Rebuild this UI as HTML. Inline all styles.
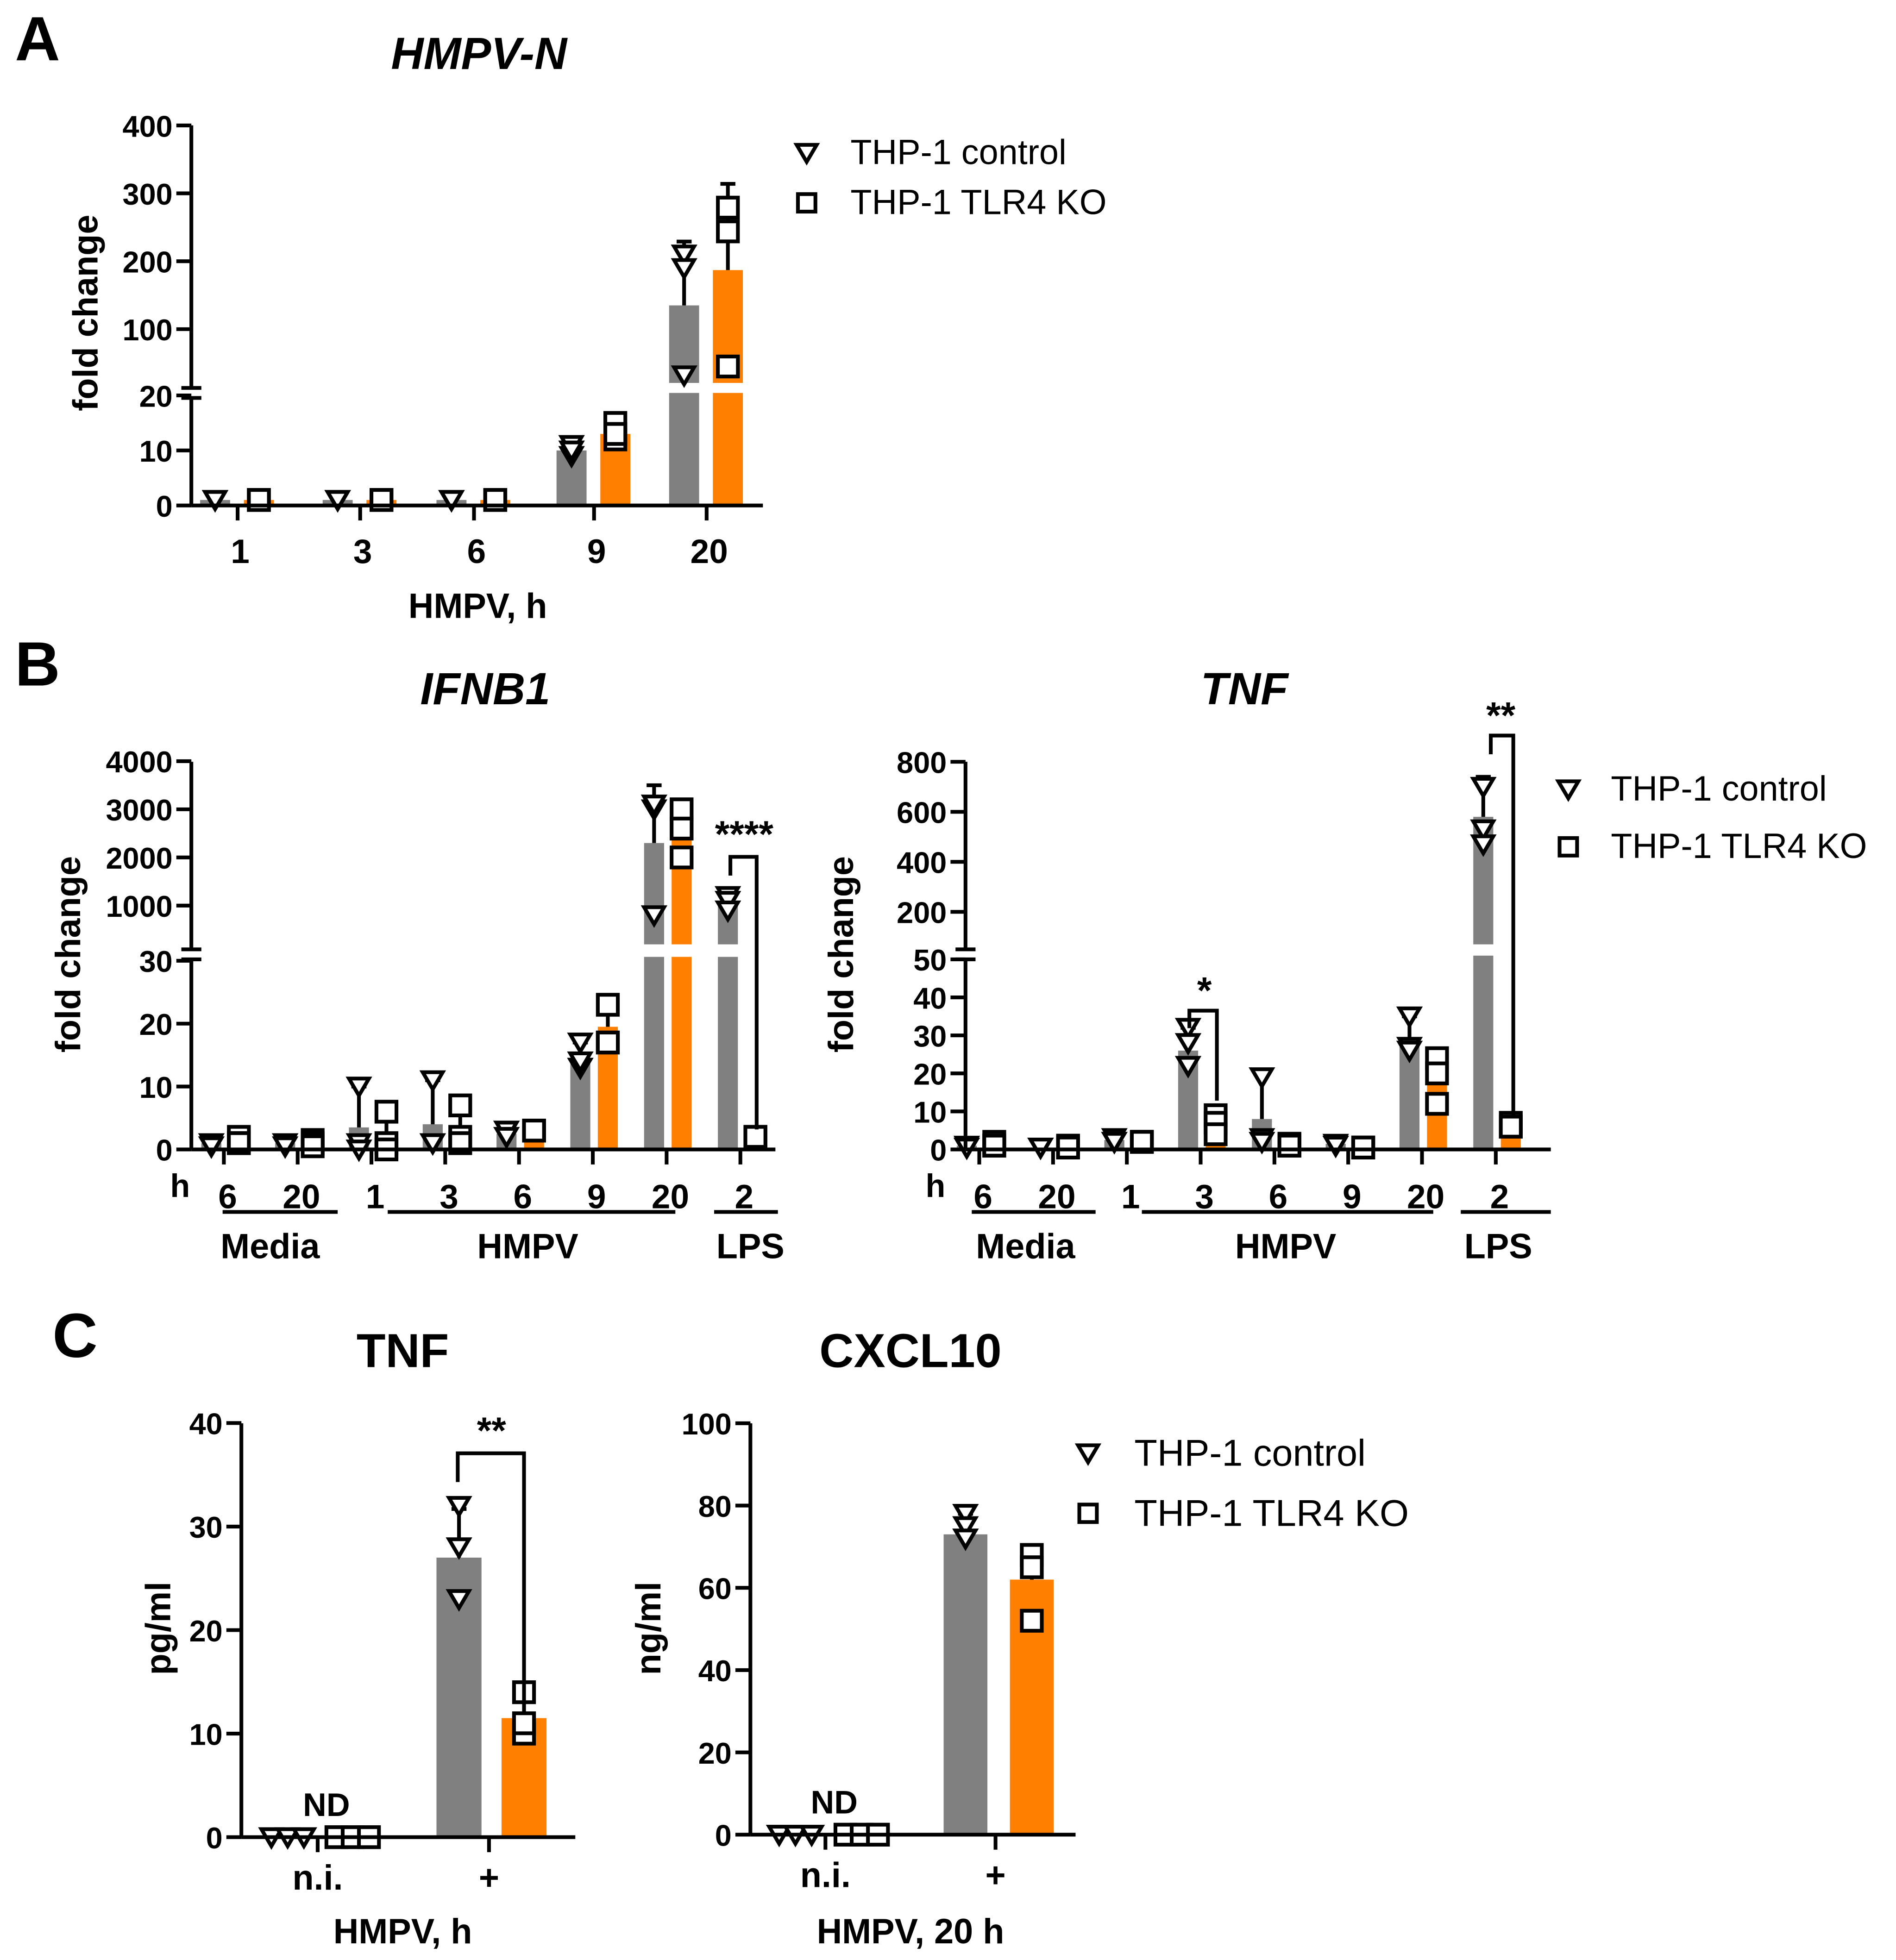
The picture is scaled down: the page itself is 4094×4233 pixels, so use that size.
<!DOCTYPE html>
<html><head><meta charset="utf-8"><style>
html,body{margin:0;padding:0;background:#fff}
svg{display:block}
text{font-family:"Liberation Sans",Arial,sans-serif;font-weight:bold;fill:#000}
</style></head><body>
<svg id="fig" width="4094" height="4233" viewBox="0 0 1516 1567" xmlns="http://www.w3.org/2000/svg">
<g id="root"></g>
</svg>
<script>
// ---- Panel A data (HMPV-N) ----
const aCats = ['1','3','6','9','20'];
const aCtrlMean = [1,1,1,10,135];
const aCtrlPts = [[1,1,1],[1,1,1],[1,1,1],[11,9,10],[210,190,32]];
const aCtrlErr = [1,1,1,11,229];
const aKoMean = [1,1,1,13,187];
const aKoPts = [[1,1,1],[1,1,1],[1,1,1],[15,12,13],[279,244,45]];
const aKoErr = [1,1,1,15,314];
const aLowTicks = [0,10,20];
const aHighTicks = [100,200,300,400];
// ---- Panel B IFNB1 data ----
const bCats = ['6','20','1','3','6','9','20','2'];
const bCtrlMean = [1,1,3.5,4,2.5,14.5,2300,1000];
const bCtrlPts = [[1,1,0.5],[1,1,0.5],[10,1,0],[11,1,1],[3,3,2],[17,13,14],[3000,3100,800],[1200,1100,900]];
const bCtrlErr = [1,1,10,11,3,17,3500,1200];
const bKoMean = [1.5,1,1.5,2.5,3,19.5,2500,2];
const bKoPts = [[2,1,1],[1.5,1,0.5],[6,1,0],[7,2,1],[3,3,3],[23,17,17],[3000,2600,2000],[2,2,2]];
const bKoErr = [2,1.5,6,7,3,23,3050,2];
const bLowTicks = [0,10,20,30];
const bHighTicks = [1000,2000,3000,4000];
// ---- Panel B TNF data ----
const tCtrlMean = [1,0.5,2.5,26,8,1.5,28,580];
const tCtrlPts = [[1,0.5,0.5],[0.5,0.5,0.5],[3,2,2],[32,28,22],[19,3,2],[1.5,1,1],[35,27,26],[700,530,470]];
const tCtrlErr = [1,0.5,3,32,20,1.5,35,740];
const tKoMean = [1.5,1,2,6,1,0.5,18,6];
const tKoPts = [[2,1,1],[1,0.5,0.5],[2,2,2],[9,7,4],[1.5,1,1],[0.5,0.5,0.5],[24,20,12],[7,6,6]];
const tKoErr = [2,1,2,10,1.5,0.5,24,7];
const tLowTicks = [0,10,20,30,40,50];
const tHighTicks = [200,400,600,800];
// ---- Panel C data ----
const cCats = ['n.i.','+'];
const cTnfCtrlMean = [0,27];
const cTnfCtrlPts = [[0,0,0],[32,28,23]];
const cTnfCtrlErr = [0,31.7];
const cTnfKoMean = [0,11.5];
const cTnfKoPts = [[0,0,0],[14,10,11]];
const cTnfKoErr = [0,13.5];
const cTnfTicks = [0,10,20,30,40];
const cCxCtrlMean = [0,73];
const cCxCtrlPts = [[0,0,0],[78,75,72]];
const cCxCtrlErr = [0,78];
const cCxKoMean = [0,62];
const cCxKoPts = [[0,0,0],[68,65,52]];
const cCxKoErr = [0,70];
const cCxTicks = [0,20,40,60,80,100];

const NS='http://www.w3.org/2000/svg';
const root=document.getElementById('root');
function el(tag,attrs,parent,txt){const e=document.createElementNS(NS,tag);for(const k in attrs)e.setAttribute(k,attrs[k]);if(txt!==undefined)e.textContent=txt;(parent||root).appendChild(e);return e;}
function txt(x,y,s,size,name,opts){opts=opts||{};const t=el('text',{x:x,y:y,'font-size':size,'text-anchor':opts.anchor||'middle'},opts.parent,s);
if(opts.italic)t.setAttribute('font-style','italic');if(opts.normal)t.setAttribute('style','font-weight:normal');if(opts.rot)t.setAttribute('transform','rotate(-90 '+x+' '+y+')');


return t;}
function line(x1,y1,x2,y2,w,name,parent){const l=el('line',{x1:x1,y1:y1,x2:x2,y2:y2,stroke:'#000','stroke-width':w||3},parent);


return l;}
function tri(x,y,s,parent){const p=el('path',{d:`M${x-s},${y-s*0.8} L${x+s},${y-s*0.8} L${x},${y+s*0.9} Z`,fill:'#fff',stroke:'#000','stroke-width':3,'stroke-linejoin':'miter'},parent);


return p;}
function sq(x,y,s,parent){const p=el('rect',{x:x-s,y:y-s,width:2*s,height:2*s,fill:'#fff',stroke:'#000','stroke-width':3},parent);


return p;}

function panel(cfg){
  const g=el('g',{});
  
  
  const Y=cfg.yfn;
  const series=[
    {mean:cfg.ctrlMean,pts:cfg.ctrlPts,err:cfg.ctrlErr,color:'#808080',dx:cfg.gdx,mk:tri,name:'bar-control'},
    {mean:cfg.koMean,pts:cfg.koPts,err:cfg.koErr,color:'#ff8000',dx:cfg.odx,mk:sq,name:'bar-ko'}];
  series.forEach(s=>{
    s.mean.forEach((m,i)=>{
      const cx=cfg.xfn(i)+s.dx;
      const yt=Y(m);
      const r=el('rect',{x:cx-cfg.bw/2,y:yt,width:cfg.bw,height:Math.max(0,cfg.y0-yt),fill:s.color},g);
      
      
      if(cfg.gap && yt<cfg.gap[0]){
        const w=el('rect',{x:cx-cfg.bw/2-1,y:cfg.gap[0],width:cfg.bw+2,height:cfg.gap[1]-cfg.gap[0],fill:'#fff'},g);
        
        
      }
    });
  });
  series.forEach(s=>{
    s.mean.forEach((m,i)=>{
      const cx=cfg.xfn(i)+s.dx;
      const ye=Y(s.err[i]), ym=Y(m);
      if(ye<ym-2){line(cx,ym,cx,ye,3,'error-bar',g);line(cx-6,ye,cx+6,ye,3,'error-cap',g);}
      s.pts[i].forEach((v,k)=>{
        const off = (v===0 && cfg.spread)? (k-1)*cfg.spread : 0;
        s.mk(cx+off,Y(v),cfg.ms,g);
      });
    });
  });
  line(cfg.x0,cfg.y0,cfg.x1,cfg.y0,3,'x-axis',g);
  if(cfg.axisSegs){cfg.axisSegs.forEach(sg=>line(cfg.x0,sg[0],cfg.x0,sg[1],3,'y-axis',g));}
  if(cfg.breakMarks){cfg.breakMarks.forEach(yb=>line(cfg.x0-8,yb,cfg.x0+8,yb,3,'axis-break-mark',g));}
  cfg.ticks.forEach(t=>{const y=Y(t);line(cfg.x0-12,y,cfg.x0,y,3,'y-tick',g);txt(cfg.x0-15,y+9,String(t),cfg.tfs,'y-tick-label',{anchor:'end',parent:g});});
  cfg.cats.forEach((c,i)=>{const x=cfg.xfn(i)+cfg.tickdx;line(x,cfg.y0,x,cfg.y0+12,3,'x-tick',g);txt(x+cfg.labdx,cfg.labY,c,cfg.xfs,'x-tick-label',{parent:g});});
  return g;
}

// ---- Panel A ----
txt(30,48,'A',50,'panel-label-a');
txt(383,55,'HMPV-N',36,'chart-title-hmpv-n',{italic:true});
txt(78,250,'fold change',28,'y-axis-title',{rot:true});
const yA=v=> v<=20 ? 404-v*4.4 : 263-(v-100)*0.543;
panel({name:'panel-a',x0:153,x1:610,y0:404,yfn:yA,ticks:aLowTicks.concat(aHighTicks),gap:[306,314],
 cats:aCats,xfn:i=>[192,290,381,477,567][i]-2,gdx:-18,odx:17,bw:24,tickdx:0,labdx:2,labY:450,tfs:24,xfs:27,ms:8,
 ctrlMean:aCtrlMean,ctrlPts:aCtrlPts,ctrlErr:aCtrlErr,koMean:aKoMean,koPts:aKoPts,koErr:aKoErr,
 axisSegs:[[100,310],[318,404]],breakMarks:[310,318]});
txt(382,494,'HMPV, h',28,'x-axis-title');
tri(645,122,8);txt(680,131,'THP-1 control',28,'legend-control',{anchor:'start',normal:true});
sq(645,162,7);txt(680,171,'THP-1 TLR4 KO',28,'legend-ko',{anchor:'start',normal:true});

// ---- Panel B IFNB1 ----
txt(30,548,'B',50,'panel-label-b');
txt(388,563,'IFNB1',36,'chart-title-ifnb1',{italic:true});
txt(64,763,'fold change',28,'y-axis-title',{rot:true});
const yB=v=> v<=30 ? 919-v*5.03 : 724-(v-1000)*0.0385;
panel({name:'panel-b-ifnb1',x0:153,x1:620,y0:919,yfn:yB,ticks:bLowTicks.concat(bHighTicks),gap:[755,765],
 cats:bCats,xfn:i=>179+59*i,gdx:-10,odx:12,bw:16,tickdx:0,labdx:3,labY:966,tfs:24,xfs:27,ms:8,
 ctrlMean:bCtrlMean,ctrlPts:bCtrlPts,ctrlErr:bCtrlErr,koMean:bKoMean,koPts:bKoPts,koErr:bKoErr,
 axisSegs:[[609,759],[767,919]],breakMarks:[759,767]});
txt(144,957,'h',26,'x-unit-label');
line(178,969,270,969,3,'group-line-media');line(310,969,540,969,3,'group-line-hmpv');line(571,969,622,969,3,'group-line-lps');
txt(216,1006,'Media',28,'group-label-media');txt(422,1006,'HMPV',28,'group-label-hmpv');txt(600,1006,'LPS',28,'group-label-lps');
el('path',{d:'M584,700 L584,685 L605,685 L605,903',fill:'none',stroke:'#000','stroke-width':3});
txt(595,677,'****',30,'significance-ifnb1-lps');

// ---- Panel B TNF ----
txt(995,563,'TNF',36,'chart-title-tnf-qpcr',{italic:true});
txt(682,763,'fold change',28,'y-axis-title',{rot:true});
const yT=v=> v<=50 ? 919-v*3.04 : 729-(v-200)*0.2;
panel({name:'panel-b-tnf',x0:772,x1:1240,y0:919,yfn:yT,ticks:tLowTicks.concat(tHighTicks),gap:[755,764],
 cats:bCats,xfn:i=>783+59*i,gdx:-10,odx:12,bw:16,tickdx:0,labdx:3,labY:966,tfs:24,xfs:27,ms:8,
 ctrlMean:tCtrlMean,ctrlPts:tCtrlPts,ctrlErr:tCtrlErr,koMean:tKoMean,koPts:tKoPts,koErr:tKoErr,
 axisSegs:[[609,759],[767,919]],breakMarks:[759,767]});
txt(748,957,'h',26,'x-unit-label');
line(777,969,876,969,3,'group-line-media');line(913,969,1146,969,3,'group-line-hmpv');line(1168,969,1240,969,3,'group-line-lps');
txt(820,1006,'Media',28,'group-label-media');txt(1028,1006,'HMPV',28,'group-label-hmpv');txt(1198,1006,'LPS',28,'group-label-lps');
el('path',{d:'M951,822 L951,808 L973,808 L973,880',fill:'none',stroke:'#000','stroke-width':3});
txt(963,802,'*',30,'significance-tnf-3h');
el('path',{d:'M1192,603 L1192,588 L1210,588 L1210,893',fill:'none',stroke:'#000','stroke-width':3});
txt(1200,582,'**',30,'significance-tnf-lps');
tri(1254,631,8);txt(1288,640,'THP-1 control',28,'legend-control',{anchor:'start',normal:true});
sq(1254,677,7);txt(1288,686,'THP-1 TLR4 KO',28,'legend-ko',{anchor:'start',normal:true});

// ---- Panel C TNF ----
txt(60,1085,'C',50,'panel-label-c');
txt(322,1093,'TNF',38,'chart-title-tnf-elisa');
txt(136,1302,'pg/ml',28,'y-axis-title',{rot:true});
const yC1=v=>1469-v*8.28;
panel({name:'panel-c-tnf',x0:193,x1:460,y0:1469,yfn:yC1,ticks:cTnfTicks,
 cats:cCats,xfn:i=>[254,391][i],gdx:-24,odx:28,bw:36,tickdx:0,labdx:0,labY:1511,tfs:24,xfs:28,ms:8,spread:13,
 ctrlMean:cTnfCtrlMean,ctrlPts:cTnfCtrlPts,ctrlErr:cTnfCtrlErr,koMean:cTnfKoMean,koPts:cTnfKoPts,koErr:cTnfKoErr,
 axisSegs:[[1138,1469]]});
txt(322,1554,'HMPV, h',28,'x-axis-title');
txt(261,1452,'ND',26,'not-detected-label');
el('path',{d:'M366,1185 L366,1162 L419,1162 L419,1368',fill:'none',stroke:'#000','stroke-width':3});
txt(393,1154,'**',30,'significance-tnf-elisa');

// ---- Panel C CXCL10 ----
txt(728,1093,'CXCL10',38,'chart-title-cxcl10');
txt(528,1302,'ng/ml',28,'y-axis-title',{rot:true});
const yC2=v=>1467-v*3.29;
panel({name:'panel-c-cxcl10',x0:600,x1:860,y0:1467,yfn:yC2,ticks:cCxTicks,
 cats:cCats,xfn:i=>[660,796][i],gdx:-24,odx:29,bw:35,tickdx:0,labdx:0,labY:1509,tfs:24,xfs:28,ms:8,spread:13,
 ctrlMean:cCxCtrlMean,ctrlPts:cCxCtrlPts,ctrlErr:cCxCtrlErr,koMean:cCxKoMean,koPts:cCxKoPts,koErr:cCxKoErr,
 axisSegs:[[1138,1467]]});
txt(728,1554,'HMPV, 20 h',28,'x-axis-title');
txt(667,1450,'ND',26,'not-detected-label');
tri(870,1162,8);txt(907,1172,'THP-1 control',30,'legend-control',{anchor:'start',normal:true});
sq(870,1210,7);txt(907,1220,'THP-1 TLR4 KO',30,'legend-ko',{anchor:'start',normal:true});
</script>
</body></html>
